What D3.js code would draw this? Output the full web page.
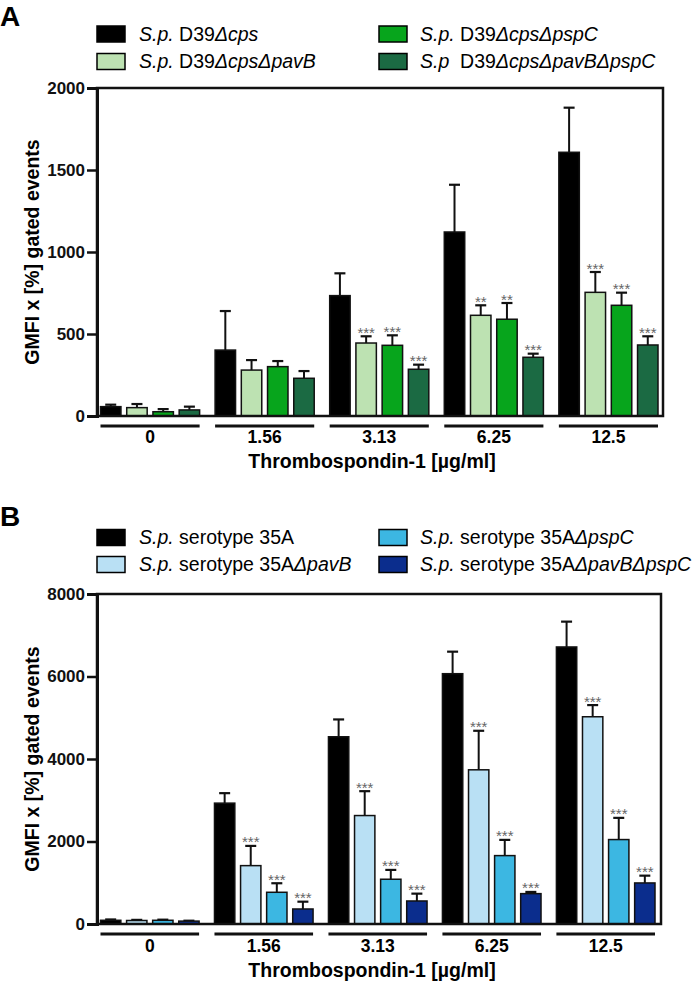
<!DOCTYPE html>
<html>
<head>
<meta charset="utf-8">
<script src="https://cdn.jsdelivr.net/npm/d3@7/dist/d3.min.js"></script>
<style>
  html, body { margin: 0; padding: 0; background: #fff; }
  svg { display: block; font-family: "Liberation Sans", Arial, sans-serif; }
</style>
</head>
<body>
<svg id="chart" width="693" height="983"></svg>
<script>
// ---------- DATA ----------
const groups = ["0", "1.56", "3.13", "6.25", "12.5"];

// Panel A: S.p. D39 strains
const aMeanCps          = [57, 402, 734, 1122, 1608];
const aSdCps            = [12, 238, 136, 288, 272];
const aMeanCpsPavB      = [51, 280, 445, 614, 754];
const aSdCpsPavB        = [22, 61, 41, 61, 124];
const aMeanCpsPspC      = [26, 301, 431, 590, 675];
const aSdCpsPspC        = [16, 34, 61, 99, 77];
const aMeanCpsPavBPspC  = [37, 230, 285, 358, 433];
const aSdCpsPavBPspC    = [20, 44, 28, 22, 53];
const aStarsPavB        = ["", "", "***", "**", "***"];
const aStarsPspC        = ["", "", "***", "**", "***"];
const aStarsPavBPspC    = ["", "", "***", "***", "***"];
const aTicks            = [0, 500, 1000, 1500, 2000];

// Panel B: S.p. serotype 35A strains
const bMean35A          = [90, 2930, 4539, 6068, 6716];
const bSd35A            = [20, 242, 420, 534, 614];
const bMeanPavB         = [85, 1415, 2629, 3738, 5024];
const bSdPavB           = [15, 478, 591, 946, 283];
const bMeanPspC         = [90, 769, 1085, 1658, 2047];
const bSdPspC           = [15, 219, 226, 381, 526];
const bMeanPavBPspC     = [70, 364, 558, 736, 995];
const bSdPavBPspC       = [10, 177, 178, 41, 177];
const bStarsPavB        = ["", "***", "***", "***", "***"];
const bStarsPspC        = ["", "***", "***", "***", "***"];
const bStarsPavBPspC    = ["", "***", "***", "***", "***"];
const bTicks            = [0, 2000, 4000, 6000, 8000];

const colorsA = ["#000000", "#bde2b2", "#07a51c", "#1b6a43"];
const colorsB = ["#000000", "#b9e0f4", "#3cb7e2", "#0b2d8d"];

// legend labels as [text, italic] segments
const legendA = [
  [["S.p.", true], [" D39", false], ["\u0394cps", true]],
  [["S.p.", true], [" D39", false], ["\u0394cps\u0394pavB", true]],
  [["S.p.", true], [" D39", false], ["\u0394cps\u0394pspC", true]],
  [["S.p", true], ["  D39", false], ["\u0394cps\u0394pavB\u0394pspC", true]]
];
const legendB = [
  [["S.p.", true], [" serotype 35A", false]],
  [["S.p.", true], [" serotype 35A", false], ["\u0394pavB", true]],
  [["S.p.", true], [" serotype 35A", false], ["\u0394pspC", true]],
  [["S.p.", true], [" serotype 35A", false], ["\u0394pavB\u0394pspC", true]]
];

const panelA = {
  letter: "A", letterY: 26,
  means: [aMeanCps, aMeanCpsPavB, aMeanCpsPspC, aMeanCpsPavBPspC],
  sds: [aSdCps, aSdCpsPavB, aSdCpsPspC, aSdCpsPavBPspC],
  stars: [null, aStarsPavB, aStarsPspC, aStarsPavBPspC],
  ticks: aTicks, colors: colorsA, legend: legendA,
  legendY: [34, 61.5],
  left: 97, right: 663, top: 88, bottom: 416,
  bandL: 100.5, bandR: 658,
  labelY: 443, titleY: 468
};
const panelB = {
  letter: "B", letterY: 526,
  means: [bMean35A, bMeanPavB, bMeanPspC, bMeanPavBPspC],
  sds: [bSd35A, bSdPavB, bSdPspC, bSdPavBPspC],
  stars: [null, bStarsPavB, bStarsPspC, bStarsPavBPspC],
  ticks: bTicks, colors: colorsB, legend: legendB,
  legendY: [537.5, 564.5],
  left: 97, right: 661, top: 594, bottom: 924,
  bandL: 100.5, bandR: 655,
  labelY: 952, titleY: 977
};

const svg = d3.select("#chart");

function drawPanel(p) {
  const g = svg.append("g");

  // panel letter
  g.append("text").attr("x", 0).attr("y", p.letterY)
    .attr("font-size", 28).attr("font-weight", "bold").text(p.letter);

  // legend
  const legCols = [[97, 139], [379, 420]];
  p.legend.forEach((segs, i) => {
    const col = i < 2 ? 0 : 1;
    const row = i % 2;
    const cy = p.legendY[row];
    g.append("rect")
      .attr("x", legCols[col][0]).attr("y", cy - 8)
      .attr("width", 28).attr("height", 16)
      .attr("fill", p.colors[i]).attr("stroke", "#000").attr("stroke-width", 1.5);
    const t = g.append("text").attr("x", legCols[col][1]).attr("y", cy + 6.5)
      .attr("font-size", 19.5).attr("xml:space", "preserve").style("white-space", "pre");
    segs.forEach(s => {
      t.append("tspan").attr("font-style", s[1] ? "italic" : "normal").text(s[0]);
    });
  });

  const y = d3.scaleLinear().domain([0, p.ticks[p.ticks.length - 1]])
    .range([p.bottom, p.top]);
  const x = d3.scaleBand().domain(groups).range([p.bandL, p.bandR])
    .paddingInner(0.135).paddingOuter(0);
  const xi = d3.scaleBand().domain([0, 1, 2, 3]).range([0, x.bandwidth()])
    .paddingInner(0.22).paddingOuter(0);

  // bars, error bars, stars
  p.means.forEach((vals, s) => {
    vals.forEach((v, gi) => {
      const bx = x(groups[gi]) + xi(s);
      const bw = xi.bandwidth();
      const cx = bx + bw / 2;
      const errTop = y(v + p.sds[s][gi]);
      g.append("line").attr("x1", cx).attr("x2", cx)
        .attr("y1", y(v)).attr("y2", errTop)
        .attr("stroke", "#111").attr("stroke-width", 2);
      g.append("line").attr("x1", cx - 5.5).attr("x2", cx + 5.5)
        .attr("y1", errTop).attr("y2", errTop)
        .attr("stroke", "#111").attr("stroke-width", 2.2);
      g.append("rect")
        .attr("x", bx).attr("y", y(v))
        .attr("width", bw).attr("height", y(0) - y(v))
        .attr("fill", p.colors[s]).attr("stroke", "#111").attr("stroke-width", 1.5);
      if (p.stars[s] && p.stars[s][gi]) {
        g.append("text").attr("x", cx).attr("y", errTop + 1.5)
          .attr("text-anchor", "middle").attr("font-size", 15)
          .attr("fill", "#666").text(p.stars[s][gi]);
      }
    });
  });

  // frame
  g.append("rect").attr("x", p.left).attr("y", p.top)
    .attr("width", p.right - p.left).attr("height", p.bottom - p.top)
    .attr("fill", "none").attr("stroke", "#111").attr("stroke-width", 2.5);

  // y axis
  const ax = g.append("g").attr("transform", `translate(${p.left},0)`)
    .call(d3.axisLeft(y).tickValues(p.ticks).tickSize(10).tickPadding(2)
      .tickFormat(d3.format("d")));
  ax.select(".domain").attr("stroke", "#111").attr("stroke-width", 3);
  ax.selectAll(".tick line").attr("stroke", "#111").attr("stroke-width", 2.5);
  ax.selectAll(".tick text").attr("font-size", 17).attr("font-weight", "bold")
    .attr("fill", "#111").attr("font-family", "Liberation Sans, Arial, sans-serif");

  // y title
  g.append("text")
    .attr("transform", `translate(39,${(p.top + p.bottom) / 2}) rotate(-90)`)
    .attr("text-anchor", "middle").attr("font-size", 19.5).attr("font-weight", "bold")
    .text("GMFI x [%] gated events");

  // group underlines and labels
  groups.forEach(gr => {
    g.append("line").attr("x1", x(gr)).attr("x2", x(gr) + x.bandwidth())
      .attr("y1", p.bottom + 10).attr("y2", p.bottom + 10)
      .attr("stroke", "#111").attr("stroke-width", 3);
    g.append("text").attr("x", x(gr) + x.bandwidth() / 2).attr("y", p.labelY)
      .attr("text-anchor", "middle").attr("font-size", 17.5).attr("font-weight", "bold")
      .text(gr);
  });

  // x title
  g.append("text").attr("x", 372).attr("y", p.titleY)
    .attr("text-anchor", "middle").attr("font-size", 19.5).attr("font-weight", "bold")
    .text("Thrombospondin-1 [\u00b5g/ml]");
}

drawPanel(panelA);
drawPanel(panelB);
</script>
</body>
</html>
